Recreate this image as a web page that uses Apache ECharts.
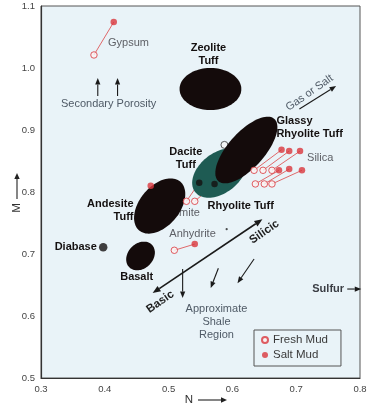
<!DOCTYPE html>
<html><head><meta charset="utf-8">
<script src="https://cdn.jsdelivr.net/npm/echarts@6/dist/echarts.min.js"></script>
<style>html,body{margin:0;padding:0;background:#fff}#c{width:381px;height:410px}</style>
</head><body><div id="c"></div>
<script>
// ---- axis ticks ----
const nTicks = [0.3, 0.4, 0.5, 0.6, 0.7, 0.8];
const mTicks = [0.5, 0.6, 0.7, 0.8, 0.9, 1.0, 1.1];

// ---- lithology regions (ellipses in N-M space) ----
const regionName = ['Zeolite Tuff', 'Andesite Tuff', 'Basalt', 'Dacite Tuff', 'Glassy Rhyolite Tuff'];
const regionN = [0.5656, 0.486, 0.456, 0.5797, 0.6219];
const regionM = [0.9661, 0.7774, 0.6968, 0.8306, 0.8677];
const regionHalfN = [0.0484, 0.050, 0.025, 0.0484, 0.0656];
const regionHalfM = [0.0339, 0.0323, 0.0202, 0.0323, 0.029];
const regionTilt = [0, 50, 45, 38, 48];

// ---- mineral shifts: fresh mud -> salt mud ----
const pairMineral = ['Gypsum', 'Anhydrite', 'Dolomite', 'Dolomite', 'Silica', 'Silica', 'Silica', 'Silica', 'Silica', 'Silica'];
const freshN = [0.383, 0.509, 0.528, 0.541, 0.634, 0.648, 0.662, 0.636, 0.650, 0.662];
const freshM = [1.021, 0.706, 0.785, 0.785, 0.835, 0.835, 0.835, 0.813, 0.813, 0.813];
const saltN = [0.414, 0.541, 0.548, 0.572, 0.677, 0.689, 0.706, 0.673, 0.689, 0.709];
const saltM = [1.074, 0.716, 0.815, 0.813, 0.868, 0.866, 0.866, 0.835, 0.837, 0.835];
const loneSaltN = [0.472];
const loneSaltM = [0.810];
const hiddenFreshN = [0.5875];
const hiddenFreshM = [0.876];
const diabaseN = [0.3975];
const diabaseM = [0.711];
const specN = [0.591];
const specM = [0.740];

// ---- trend arrows ----
const arrowFromN = [0.389, 0.420, 0.705, 0.647, 0.522, 0.578, 0.634, 0.780];
const arrowFromM = [0.955, 0.955, 0.934, 0.756, 0.676, 0.677, 0.692, 0.6435];
const arrowToN = [0.389, 0.420, 0.7625, 0.475, 0.522, 0.566, 0.608, 0.802];
const arrowToM = [0.984, 0.984, 0.971, 0.637, 0.629, 0.645, 0.653, 0.6435];
const arrowDouble = [0, 0, 0, 1, 0, 0, 0, 0];

// ---- annotations ----
const noteText = ['Gypsum', 'Secondary Porosity', 'Zeolite\nTuff', 'Gas or Salt', 'Glassy\nRhyolite Tuff',
  'Dacite\nTuff', 'Andesite\nTuff', 'Diabase', 'Basalt', 'Dolomite', 'Rhyolite Tuff', 'Anhydrite',
  'Silica', 'Silicic', 'Basic', 'Approximate\nShale\nRegion', 'Sulfur'];
const noteN = [0.405, 0.406, 0.5625, 0.721, 0.669, 0.527, 0.445, 0.3875, 0.45, 0.515, 0.561, 0.5375, 0.717, 0.65, 0.487, 0.575, 0.775];
const noteM = [1.040, 0.942, 1.022, 0.960, 0.904, 0.854, 0.770, 0.711, 0.663, 0.766, 0.778, 0.732, 0.855, 0.7355, 0.623, 0.590, 0.6435];
const noteAngle = [0, 0, 0, 35, 0, 0, 0, 0, 0, 0, 0, 0, 0, 35, 35, 0, 0];
const noteAlign = ['left', 'center', 'center', 'center', 'left', 'center', 'right', 'right', 'center', 'center', 'left', 'center', 'left', 'center', 'center', 'center', 'right'];
const noteKind = ['mineral', 'label', 'rock', 'label', 'rock', 'rock', 'rock', 'rock', 'rock', 'mineral', 'rock', 'mineral', 'mineral', 'trend', 'trend', 'label', 'sulfur'];

// ---- styles ----
const FONT = '"Liberation Sans", Arial, sans-serif';
const RED = '#d9363c';
const kindStyle = {
  rock: { fontSize: 11, fontWeight: 'bold', fill: '#141010' },
  mineral: { fontSize: 11, fontWeight: 'normal', fill: '#5e6066' },
  label: { fontSize: 11, fontWeight: 'normal', fill: '#4f5a66' },
  trend: { fontSize: 11.5, fontWeight: 'bold', fill: '#1e1e1e' },
  sulfur: { fontSize: 11, fontWeight: 'bold', fill: '#3a3d44' }
};
const regionFill = { 'Dacite Tuff': '#1e5b53' };

function renderRegion(params, api) {
  const c = api.coord([api.value(0), api.value(1)]);
  const s = api.size([api.value(2), api.value(3)]);
  const a = api.value(4) * Math.PI / 180;
  const pts = [];
  for (let k = 0; k < 90; k++) {
    const t = k / 90 * 2 * Math.PI;
    const x = s[0] * Math.cos(t), y = s[1] * Math.sin(t);
    pts.push([c[0] + x * Math.cos(a) + y * Math.sin(a), c[1] - x * Math.sin(a) + y * Math.cos(a)]);
  }
  const name = regionName[params.dataIndex];
  return { type: 'polygon', shape: { points: pts }, style: { fill: regionFill[name] || '#140b0b' } };
}

function head(tip, from, L, W) {
  const dx = tip[0] - from[0], dy = tip[1] - from[1];
  const len = Math.sqrt(dx * dx + dy * dy) || 1;
  const ux = dx / len, uy = dy / len;
  const bx = tip[0] - ux * L, by = tip[1] - uy * L;
  return { base: [bx, by], pts: [tip, [bx - uy * W, by + ux * W], [bx + uy * W, by - ux * W]] };
}

function renderArrow(params, api) {
  const p1 = api.coord([api.value(0), api.value(1)]);
  const p2 = api.coord([api.value(2), api.value(3)]);
  const dbl = api.value(4) === 1;
  const lw = dbl ? 1.6 : 1.1;
  const col = '#1a1a1a';
  const h2 = head(p2, p1, dbl ? 8 : 6.5, dbl ? 3.2 : 2.6);
  let start = p1;
  const children = [];
  if (dbl) {
    const h1 = head(p1, p2, 8, 3.2);
    start = h1.base;
    children.push({ type: 'polygon', shape: { points: h1.pts }, style: { fill: col } });
  }
  children.push({ type: 'line', shape: { x1: start[0], y1: start[1], x2: h2.base[0], y2: h2.base[1] }, style: { stroke: col, lineWidth: lw } });
  children.push({ type: 'polygon', shape: { points: h2.pts }, style: { fill: col } });
  return { type: 'group', children: children };
}

function renderPairLine(params, api) {
  const p1 = api.coord([api.value(0), api.value(1)]);
  const p2 = api.coord([api.value(2), api.value(3)]);
  return { type: 'line', shape: { x1: p1[0], y1: p1[1], x2: p2[0], y2: p2[1] }, style: { stroke: '#e0686a', lineWidth: 1 } };
}

function renderNote(params, api) {
  const i = api.value(2);
  const p = api.coord([api.value(0), api.value(1)]);
  const st = kindStyle[noteKind[i]];
  return {
    type: 'text', x: p[0], y: p[1], rotation: noteAngle[i] * Math.PI / 180,
    style: {
      text: noteText[i], fill: st.fill, fontSize: st.fontSize, fontWeight: st.fontWeight,
      fontFamily: FONT, align: noteAlign[i], verticalAlign: 'middle', lineHeight: 13
    }
  };
}

const regionData = regionName.map((n, i) => [regionN[i], regionM[i], regionHalfN[i], regionHalfM[i], regionTilt[i]]);
const pairData = freshN.map((n, i) => [n, freshM[i], saltN[i], saltM[i]]);
const arrowData = arrowFromN.map((n, i) => [n, arrowFromM[i], arrowToN[i], arrowToM[i], arrowDouble[i]]);
const underNotes = [], overNotes = [];
noteText.forEach((t, i) => {
  (t === 'Dolomite' ? underNotes : overNotes).push([noteN[i], noteM[i], i]);
});
const freshData = freshN.map((n, i) => [n, freshM[i]]);
const saltData = saltN.map((n, i) => ({
  value: [n, saltM[i]],
  itemStyle: pairMineral[i] === 'Dolomite' ? { color: '#141010' } : undefined
})).concat(loneSaltN.map((n, i) => [n, loneSaltM[i]]));

const chart = echarts.init(document.getElementById('c'), null, { renderer: 'canvas' });
chart.setOption({
  animation: false,
  backgroundColor: '#ffffff',
  textStyle: { fontFamily: FONT },
  grid: { left: 41, right: 21, top: 6, bottom: 32, show: true, backgroundColor: '#e9f3f8', borderColor: '#555', borderWidth: 1 },
  xAxis: {
    type: 'value', min: nTicks[0], max: nTicks[nTicks.length - 1], interval: 0.1,
    axisLine: { show: true, lineStyle: { color: '#333', width: 1.2 } },
    axisTick: { show: false }, splitLine: { show: false },
    axisLabel: { fontSize: 9.5, color: '#444', margin: 6, formatter: v => v.toFixed(1) }
  },
  yAxis: {
    type: 'value', min: mTicks[0], max: mTicks[mTicks.length - 1], interval: 0.1,
    axisLine: { show: true, lineStyle: { color: '#333', width: 1.2 } },
    axisTick: { show: false }, splitLine: { show: false },
    axisLabel: { fontSize: 9.5, color: '#444', margin: 6, formatter: v => v.toFixed(1) }
  },
  legend: {
    data: ['Fresh Mud', 'Salt Mud'], orient: 'vertical', left: 254, top: 330,
    padding: [4, 13, 5, 7], itemWidth: 6, itemHeight: 6, itemGap: 3,
    borderColor: '#555', borderWidth: 1, selectedMode: false,
    textStyle: { fontSize: 11.5, color: '#3a3a3a', fontFamily: FONT }
  },
  graphic: [
    { type: 'text', x: 189, y: 400, style: { text: 'N', fontSize: 11.5, fill: '#333', fontFamily: FONT, align: 'center', verticalAlign: 'middle' } },
    { type: 'line', shape: { x1: 198, y1: 400, x2: 221, y2: 400 }, style: { stroke: '#222', lineWidth: 1.1 } },
    { type: 'polygon', shape: { points: [[221, 397.3], [227, 400], [221, 402.7]] }, style: { fill: '#222' } },
    { type: 'text', x: 17, y: 208, rotation: Math.PI / 2, style: { text: 'M', fontSize: 11.5, fill: '#333', fontFamily: FONT, align: 'center', verticalAlign: 'middle' } },
    { type: 'line', shape: { x1: 17, y1: 199, x2: 17, y2: 179 }, style: { stroke: '#222', lineWidth: 1.1 } },
    { type: 'polygon', shape: { points: [[14.3, 179], [17, 173], [19.7, 179]] }, style: { fill: '#222' } }
  ],
  series: [
    { name: 'pairLines', type: 'custom', z: 1, renderItem: renderPairLine, data: pairData, silent: true },
    { name: 'underNotes', type: 'custom', z: 1, renderItem: renderNote, data: underNotes, silent: true },
    { name: 'hiddenFresh', type: 'scatter', z: 1, symbol: 'circle', symbolSize: 7, data: hiddenFreshN.map((n, i) => [n, hiddenFreshM[i]]),
      itemStyle: { color: '#f4f4f4', borderColor: '#333', borderWidth: 1 } },
    { name: 'regions', type: 'custom', z: 2, renderItem: renderRegion, data: regionData, silent: true },
    { name: 'Fresh Mud', type: 'scatter', z: 3, symbol: 'circle', symbolSize: 6.5, data: freshData,
      itemStyle: { color: '#fbf3f3', borderColor: RED, borderWidth: 1 } },
    { name: 'Salt Mud', type: 'scatter', z: 3, symbol: 'circle', symbolSize: 6.5, data: saltData,
      itemStyle: { color: RED } },
    { name: 'Diabase', type: 'scatter', z: 3, symbol: 'circle', symbolSize: 8.5, data: diabaseN.map((n, i) => [n, diabaseM[i]]),
      itemStyle: { color: '#141010' } },
    { name: 'speck', type: 'scatter', z: 3, symbol: 'circle', symbolSize: 2.2, data: specN.map((n, i) => [n, specM[i]]),
      itemStyle: { color: '#222' } },
    { name: 'arrows', type: 'custom', z: 3, renderItem: renderArrow, data: arrowData, silent: true },
    { name: 'notes', type: 'custom', z: 4, renderItem: renderNote, data: overNotes, silent: true }
  ]
});
</script></body></html>
